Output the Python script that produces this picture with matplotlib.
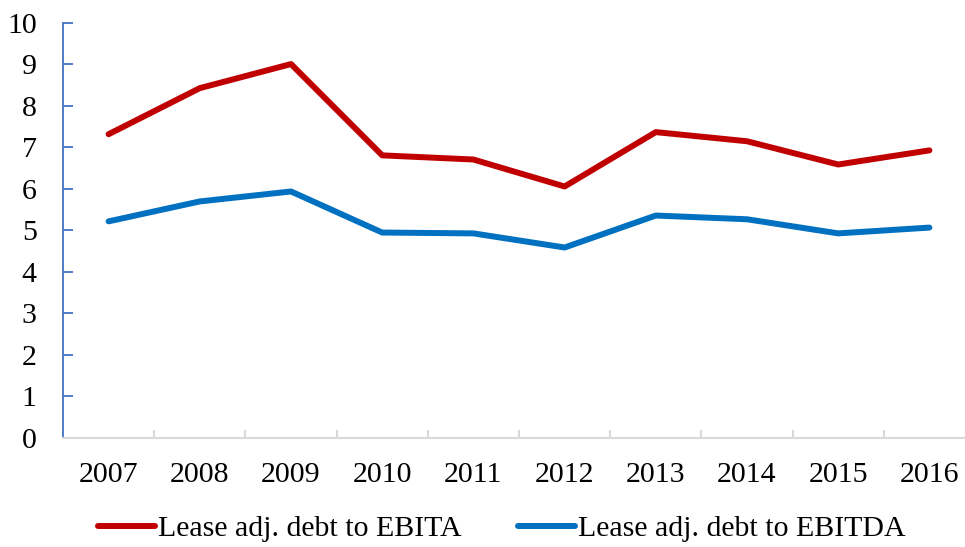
import matplotlib.pyplot as plt

# ── Datos ─────────────────────────────────────────────────
anios = ['2007', '2008', '2009', '2010', '2011',
         '2012', '2013', '2014', '2015', '2016']
ebita = [7.32, 8.43, 9.01, 6.81, 6.71, 6.06, 7.37, 7.15, 6.59, 6.93]
ebitda = [5.22, 5.70, 5.94, 4.95, 4.93, 4.59, 5.36, 5.27, 4.93, 5.07]

ROJO = '#C00000'
AZUL = '#0070C0'

plt.rcParams['font.family'] = ['Liberation Serif', 'DejaVu Serif']

fig = plt.figure(figsize=(9.65, 5.47), dpi=100)
ax = fig.add_axes([0.0653, 0.1993, 1 - 0.0653, 0.958 - 0.1993])

x = range(len(anios))
ax.plot(x, ebita, color=ROJO, lw=4.3, solid_capstyle='round',
        solid_joinstyle='round', label='Lease adj. debt to EBITA')
ax.plot(x, ebitda, color=AZUL, lw=4.3, solid_capstyle='round',
        solid_joinstyle='round', label='Lease adj. debt to EBITDA')

ax.set_ylim(0, 10)
ax.set_yticks(range(0, 11))
ax.set_xlim(-0.5, -0.5 + (965 - 63) / 91.2)

# ejes estilo Excel
for s in ['top', 'right']:
    ax.spines[s].set_visible(False)
ax.spines['left'].set_color('#4472C4')
ax.spines['left'].set_linewidth(1.3)
ax.spines['bottom'].set_color('#D9D9D9')
ax.spines['bottom'].set_linewidth(1.5)

ax.tick_params(axis='y', direction='in', length=7, width=1.3,
               color='#4472C4', labelsize=21.5, pad=19)
ax.set_xticks(list(x))
ax.set_xticklabels(anios)
ax.tick_params(axis='x', which='major', length=0, labelsize=21.5, pad=17)
ax.set_xticks([i + 0.5 for i in range(len(anios) - 1)], minor=True)
ax.tick_params(axis='x', which='minor', direction='in', length=6,
               width=1.5, color='#D9D9D9')

fig.legend(loc='center', bbox_to_anchor=(0.52, 0.033), ncol=2,
           frameon=False, fontsize=21.5, handlelength=1.9,
           handletextpad=0.1, columnspacing=1.9)

plt.savefig('out.png', dpi=100)
